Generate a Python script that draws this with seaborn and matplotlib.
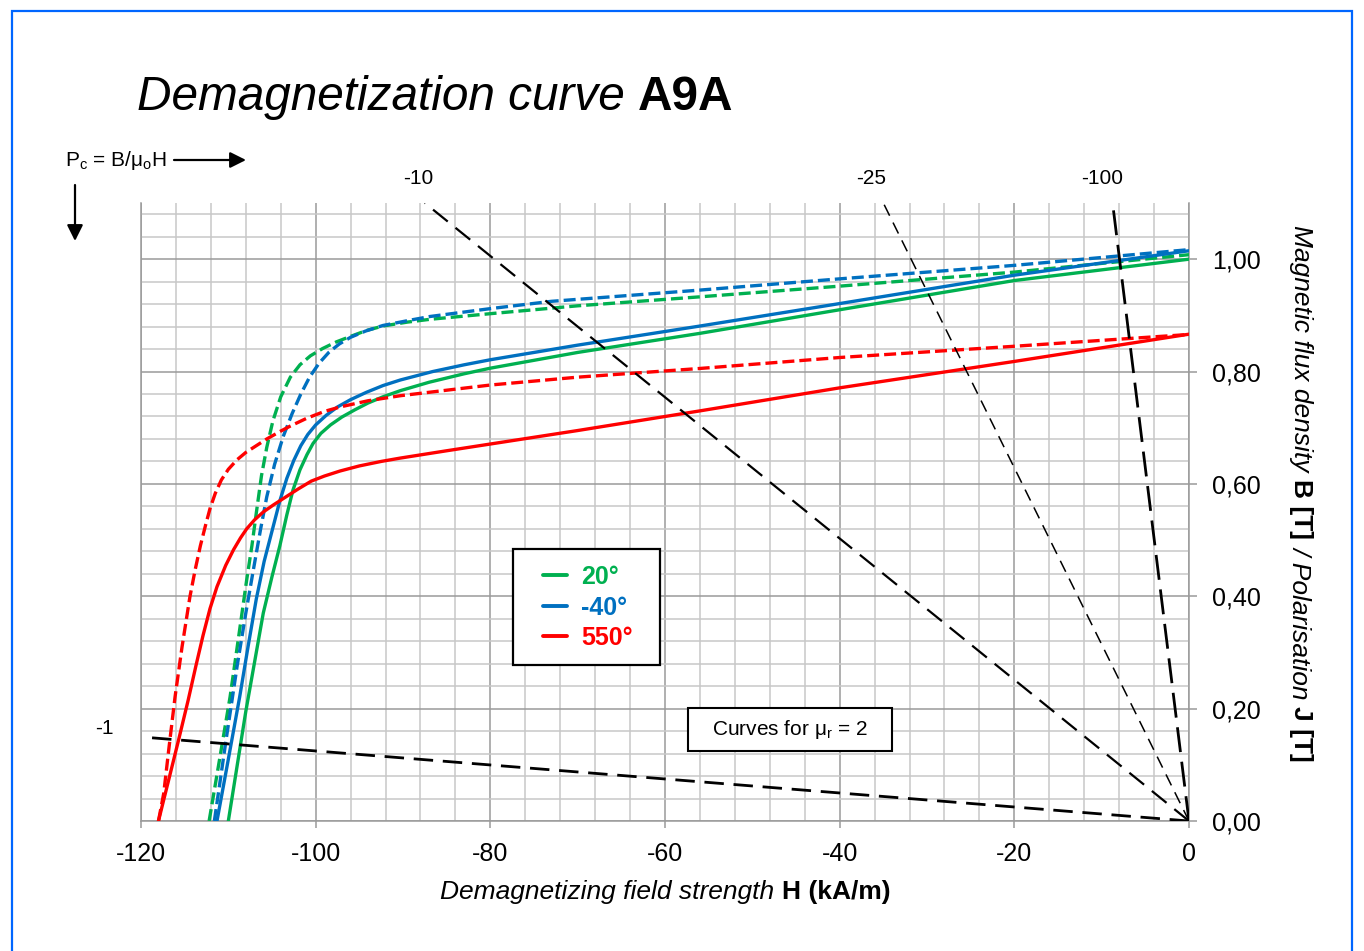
import matplotlib
matplotlib.use("Agg")
import matplotlib.pyplot as plt
import seaborn as sns
import pandas as pd
from matplotlib.ticker import MultipleLocator, FuncFormatter
from matplotlib.lines import Line2D
from matplotlib.patches import Rectangle
from matplotlib.transforms import IdentityTransform

# ---------------- data ----------------
temps = ["20°", "-40°", "550°"]
colors = ["#00B050", "#0070C0", "#FF0000"]

# 20°  flux density B (solid)
H_20_B = [-110.0, -108.0, -106.0, -105.0, -104.1, -103.3, -102.6, -101.8, -101.0, -100.3, -99.4,
          -98.3, -97.0, -95.5, -94.0, -92.3, -90.3, -87.0, -83.0, -80.0, -70.0, -56.0, -40.0, -20.0, 0.0]
B_20_B = [0.000, 0.195, 0.370, 0.435, 0.490, 0.545, 0.589, 0.625, 0.652, 0.672, 0.690,
          0.705, 0.719, 0.732, 0.744, 0.755, 0.766, 0.781, 0.796, 0.806, 0.834, 0.868, 0.910, 0.962, 1.000]
# 20°  polarisation J (dashed)
H_20_J = [-112.2, -111.0, -109.8, -108.8, -107.9, -107.3, -106.8, -106.2, -105.6, -104.9, -104.0,
          -102.9, -101.8, -100.6, -99.2, -97.6, -96.1, -94.2, -92.3, -89.5, -86.9, -80.0, -70.0,
          -56.0, -40.0, -20.0, 0.0]
B_20_J = [0.000, 0.110, 0.221, 0.330, 0.429, 0.490, 0.548, 0.615, 0.665, 0.712, 0.755,
          0.790, 0.812, 0.828, 0.841, 0.853, 0.862, 0.873, 0.881, 0.888, 0.893, 0.903, 0.917,
          0.933, 0.952, 0.977, 1.008]
# -40° flux density B (solid)
H_m40_B = [-111.3, -110.0, -108.7, -107.8, -106.8, -105.9, -104.9, -104.1, -103.3, -102.5, -101.7,
           -100.9, -100.0, -98.8, -97.5, -96.0, -94.2, -92.3, -90.3, -86.6, -83.0, -80.0, -70.0,
           -56.0, -40.0, -20.0, 0.0]
B_m40_B = [0.000, 0.110, 0.221, 0.305, 0.395, 0.462, 0.522, 0.570, 0.610, 0.642, 0.668,
           0.688, 0.705, 0.722, 0.737, 0.750, 0.763, 0.775, 0.785, 0.800, 0.812, 0.821, 0.847,
           0.881, 0.921, 0.9715, 1.015]
# -40° polarisation J (dashed)
H_m40_J = [-111.6, -110.3, -109.0, -108.0, -107.1, -106.3, -105.6, -104.7, -103.7, -102.7, -101.7,
           -100.7, -99.6, -98.5, -97.3, -96.0, -94.3, -92.3, -89.0, -86.9, -80.0, -73.0, -56.0,
           -40.0, -20.0, 0.0]
B_m40_J = [0.000, 0.140, 0.275, 0.370, 0.450, 0.520, 0.577, 0.635, 0.685, 0.725, 0.760,
           0.790, 0.815, 0.834, 0.849, 0.861, 0.872, 0.882, 0.892, 0.898, 0.912, 0.925, 0.945,
           0.965, 0.989, 1.017]
# 550° flux density B (solid)
H_550_B = [-118.0, -116.8, -115.7, -114.6, -113.7, -112.9, -112.1, -111.3, -110.3, -109.4, -108.6,
           -107.9, -107.0, -106.0, -104.8, -103.5, -102.0, -100.5, -99.0, -97.2, -95.0, -92.5,
           -90.3, -85.0, -80.0, -70.0, -56.0, -40.0, -20.0, 0.0]
B_550_B = [0.000, 0.075, 0.144, 0.215, 0.277, 0.330, 0.378, 0.417, 0.455, 0.483, 0.504,
           0.520, 0.536, 0.550, 0.563, 0.576, 0.591, 0.605, 0.614, 0.623, 0.632, 0.640,
           0.646, 0.659, 0.671, 0.695, 0.730, 0.771, 0.818, 0.8665]
# 550° polarisation J (dashed)
H_550_J = [-118.0, -117.4, -116.8, -116.1, -115.3, -114.4, -113.8, -113.2, -112.6, -112.1, -111.5,
           -110.8, -110.0, -109.0, -108.0, -106.8, -105.6, -104.0, -102.9, -101.0, -99.0, -97.2,
           -94.0, -90.3, -80.0, -70.0, -56.0, -40.0, -20.0, 0.0]
B_550_J = [0.000, 0.049, 0.130, 0.221, 0.310, 0.399, 0.447, 0.490, 0.527, 0.556, 0.583,
           0.607, 0.626, 0.643, 0.656, 0.668, 0.680, 0.694, 0.703, 0.717, 0.729, 0.737,
           0.748, 0.757, 0.776, 0.790, 0.8055, 0.825, 0.845, 0.866]

# load lines P_c (end points, other end at the origin)
load_labels = ["-1", "-10", "-25", "-100"]
load_H_end = [-119.5, -87.5, -35.0, -8.75]
load_B_end = [0.149, 1.10, 1.10, 1.10]

x_ticks = [-120, -100, -80, -60, -40, -20, 0]
y_ticks = [0.0, 0.2, 0.4, 0.6, 0.8, 1.0]

# ---------------- style ----------------
sns.set_theme(style="white")
plt.rcParams["font.family"] = ["Liberation Sans", "DejaVu Sans"]
plt.rcParams["text.color"] = "black"
plt.rcParams["mathtext.fontset"] = "custom"
plt.rcParams["mathtext.rm"] = "Liberation Sans"
plt.rcParams["mathtext.it"] = "Liberation Sans:italic"
plt.rcParams["mathtext.bf"] = "Liberation Sans:bold"

W, Hh = 1364, 951
fig = plt.figure(figsize=(W / 100, Hh / 100), dpi=100)
fig.patch.set_facecolor("white")


def fx(px):
    return px / W


def fy(py):
    return 1 - py / Hh


ax = fig.add_axes([fx(141), fy(821), fx(1189) - fx(141), fy(203) - fy(821)])
ax.set_facecolor("white")

# ---------------- curves ----------------
rows = []
for temp, kind, hs, bs in [
    ("20°", "B", H_20_B, B_20_B), ("20°", "J", H_20_J, B_20_J),
    ("-40°", "B", H_m40_B, B_m40_B), ("-40°", "J", H_m40_J, B_m40_J),
    ("550°", "B", H_550_B, B_550_B), ("550°", "J", H_550_J, B_550_J),
]:
    for h, b in zip(hs, bs):
        rows.append({"H": h, "B": b, "temp": temp, "kind": kind})
df = pd.DataFrame(rows)

sns.lineplot(data=df, x="H", y="B", hue="temp", style="kind",
             hue_order=temps, palette=dict(zip(temps, colors)),
             style_order=["B", "J"], dashes={"B": "", "J": (3.6, 1.5)},
             sort=False, estimator=None, legend=False, lw=2.4, ax=ax, zorder=3)
for ln in ax.get_lines():
    ln.set_dash_joinstyle("round")
    ln.set_solid_joinstyle("round")

# load lines
load_styles = [dict(lw=2.0, dashes=(7, 3.5)), dict(lw=1.6, dashes=(8.5, 4.5)),
               dict(lw=1.1, dashes=(8, 5)), dict(lw=2.0, dashes=(9, 3.5))]
for he, be, st in zip(load_H_end, load_B_end, load_styles):
    ax.plot([0, he], [0, be], color="black", lw=st["lw"], dashes=st["dashes"], zorder=4)

# ---------------- axes ----------------
ax.set_xlim(-120, 0)
ax.set_ylim(0, 1.1)
ax.set_xticks(x_ticks)
ax.set_yticks(y_ticks)
ax.xaxis.set_minor_locator(MultipleLocator(4))
ax.yaxis.set_minor_locator(MultipleLocator(0.04))
ax.xaxis.set_major_formatter(FuncFormatter(lambda v, p: f"{int(round(v))}"))
ax.yaxis.set_major_formatter(FuncFormatter(lambda v, p: f"{v:.2f}".replace(".", ",")))
ax.set_axisbelow(True)
ax.grid(which="minor", color="#c8c8c8", lw=1.1)
ax.grid(which="major", color="#9a9a9a", lw=1.1)
ax.set_xlabel("")
ax.set_ylabel("")
ax.spines["top"].set_visible(False)
for s in ["left", "bottom", "right"]:
    ax.spines[s].set_color("#9a9a9a")
    ax.spines[s].set_linewidth(1.1)
ax.yaxis.tick_right()
ax.tick_params(axis="x", which="major", bottom=True, direction="out", length=5, width=1.1,
               color="#9a9a9a", labelsize=18, labelcolor="black", pad=10)
ax.tick_params(axis="y", which="major", right=True, left=False, labelright=True, labelleft=False,
               direction="out", length=5.8, width=1.1, color="#9a9a9a", labelsize=18,
               labelcolor="black", pad=11)
ax.tick_params(which="minor", length=0)

# load line labels
label_pos = [(-124.2, 0.165), (-88.2, 1.144), (-36.4, 1.144), (-9.9, 1.144)]
for lab, (hx, by) in zip(load_labels, label_pos):
    ax.text(hx, by, lab, fontsize=15, ha="center", va="center", clip_on=False)

# legend (frame drawn as a separate box)
ax.add_patch(Rectangle((0.355, 0.2524), 0.1402, 0.1877, transform=ax.transAxes,
                       facecolor="white", edgecolor="black", lw=1.6, zorder=9))
handles = [Line2D([0], [0], color=c, lw=2.8) for c in colors]
leg = ax.legend(handles, temps, loc="upper left", bbox_to_anchor=(0.384, 0.414),
                frameon=False, prop={"weight": "bold", "size": 18}, labelcolor="linecolor",
                handlelength=0.95, handletextpad=0.55, borderpad=0, labelspacing=0.26,
                borderaxespad=0)
leg.set_zorder(10)

# "Curves for mu_r = 2" box
ax.add_patch(Rectangle((-57.4, 0.1246), 23.4, 0.0766, facecolor="white", edgecolor="black",
                       lw=1.5, zorder=6))
ax.text(-45.7, 0.163, r"Curves for μ$_{\mathrm{r}}$ = 2", fontsize=15, ha="center",
        va="center", zorder=7)

# ---------------- rich text helper ----------------
fig.canvas.draw()
renderer = fig.canvas.get_renderer()


def rich(segments, x, y, size, rotation=0, center=True):
    ref = fig.text(0, 0, "a a", fontsize=size, fontstyle="italic", transform=IdentityTransform())
    ref2 = fig.text(0, 0, "aa", fontsize=size, fontstyle="italic", transform=IdentityTransform())
    gap = ref.get_window_extent(renderer).width - ref2.get_window_extent(renderer).width
    ref.remove()
    ref2.remove()
    arts, lens = [], []
    for txt, style, weight in segments:
        t = fig.text(0, 0, txt, fontsize=size, fontstyle=style, fontweight=weight,
                     rotation=rotation, rotation_mode="anchor", ha="left", va="baseline",
                     transform=IdentityTransform())
        e = t.get_window_extent(renderer)
        arts.append(t)
        lens.append(e.width if rotation == 0 else e.height)
    total = sum(lens) + gap * (len(lens) - 1)
    off = 0
    for t, L in zip(arts, lens):
        if rotation == 0:
            start = x - total / 2 if center else x
            t.set_position((start + off, y))
        else:
            start = y + total / 2 if center else y
            t.set_position((x, start - off))
        off += L + gap


# title
rich([("Demagnetization curve", "italic", "normal"), ("A9A", "normal", "bold")],
     137, Hh - 110, 34.4, center=False)
# x label
rich([("Demagnetizing field strength", "italic", "normal"), ("H (kA/m)", "normal", "bold")],
     665.5, Hh - 899, 19)
# y label (right side, reading downwards)
rich([("Magnetic flux density", "italic", "normal"), ("B [T]", "normal", "bold"),
      ("/ Polarisation", "italic", "normal"), ("J [T]", "normal", "bold")],
     1294, Hh - 493.5, 19, rotation=-90)

# P_c annotation with arrows
fig.text(fx(65), fy(160), r"P$_{\mathrm{c}}$ = B/μ$_{\mathrm{o}}$H", fontsize=15,
         ha="left", va="center")
ax.annotate("", xy=(246, Hh - 160), xytext=(174, Hh - 160), xycoords="figure pixels",
            textcoords="figure pixels",
            arrowprops=dict(arrowstyle="-|>", color="black", lw=1.6, mutation_scale=24,
                            shrinkA=0, shrinkB=0))
ax.annotate("", xy=(75, Hh - 241), xytext=(75, Hh - 185), xycoords="figure pixels",
            textcoords="figure pixels",
            arrowprops=dict(arrowstyle="-|>", color="black", lw=1.6, mutation_scale=24,
                            shrinkA=0, shrinkB=0))

# outer blue frame
fig.add_artist(Rectangle((fx(12), -0.05), fx(1352) - fx(12), fy(11) + 0.05,
                         transform=fig.transFigure, fill=False, edgecolor="#0066FF", lw=1.6))

fig.savefig("out.png", dpi=100, facecolor="white")
